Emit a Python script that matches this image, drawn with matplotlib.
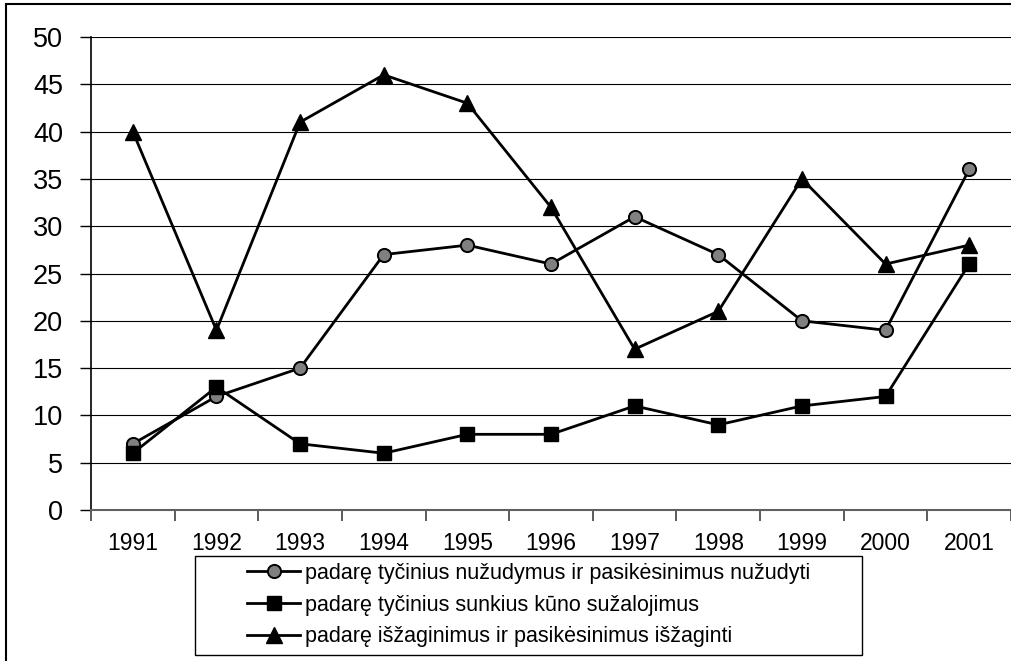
import matplotlib
matplotlib.use("Agg")
import matplotlib.pyplot as plt
from matplotlib.patches import Rectangle

years = ["1991", "1992", "1993", "1994", "1995", "1996", "1997", "1998", "1999", "2000", "2001"]
homicides = [7, 12, 15, 27, 28, 26, 31, 27, 20, 19, 36]
injuries = [6, 13, 7, 6, 8, 8, 11, 9, 11, 12, 26]
rapes = [40, 19, 41, 46, 43, 32, 17, 21, 35, 26, 28]
labels = [
    "padarę tyčinius nužudymus ir pasikėsinimus nužudyti",
    "padarę tyčinius sunkius kūno sužalojimus",
    "padarę išžaginimus ir pasikėsinimus išžaginti",
]
yticks = [0, 5, 10, 15, 20, 25, 30, 35, 40, 45, 50]

plt.rcParams['font.family'] = ['Liberation Sans', 'DejaVu Sans']

W, H = 1011, 661
fig = plt.figure(figsize=(W / 100, H / 100), dpi=100)

# outer frame (only top and left are visible in the reference)
fig.patches.append(Rectangle((6 / W, -0.05), 1.1, (H - 4) / H + 0.05, transform=fig.transFigure,
                             fill=False, edgecolor='black', linewidth=1.5, zorder=0))

ax = fig.add_axes([91 / W, (H - 510) / H, (1011 - 91) / W, (510 - 37) / H])
x = list(range(len(years)))

ax.set_ylim(0, 50)
ax.set_xlim(-0.5, len(years) - 0.5)
ax.set_yticks(yticks)
ax.set_yticklabels([str(v) for v in yticks])
for v in yticks[1:]:
    ax.axhline(v, color='black', linewidth=0.8, zorder=1)

lw = 2.0
l1, = ax.plot(x, homicides, color='black', linewidth=lw, marker='o', markersize=9.5,
              markerfacecolor='#808080', markeredgecolor='black', markeredgewidth=1.4, zorder=3)
l2, = ax.plot(x, injuries, color='black', linewidth=lw, marker='s', markersize=9.5,
              markerfacecolor='black', markeredgecolor='black', zorder=3)
l3, = ax.plot(x, rapes, color='black', linewidth=lw, marker='^', markersize=11.5,
              markerfacecolor='black', markeredgecolor='black', zorder=3)

# x ticks at category boundaries, labels at centers
ax.set_xticks([i - 0.5 for i in range(len(years) + 1)])
ax.set_xticklabels([])
ax.set_xticks(x, minor=True)
ax.set_xticklabels(years, minor=True, fontsize=16.5)
ax.tick_params(axis='x', which='minor', length=0, pad=16)
ax.tick_params(axis='x', which='major', length=8, width=1.2, color='#404040', direction='out')
ax.tick_params(axis='y', length=8, width=1, direction='out', labelsize=19.5, pad=12)

for s in ['top', 'right']:
    ax.spines[s].set_visible(False)
ax.spines['left'].set_color('black')
ax.spines['left'].set_linewidth(1.2)
ax.spines['bottom'].set_color('#606060')
ax.spines['bottom'].set_linewidth(1.5)

# legend box
fig.patches.append(Rectangle((195 / W, (H - 655) / H), (862 - 195) / W, (655 - 556) / H,
                             transform=fig.transFigure, fill=True, facecolor='white',
                             edgecolor='black', linewidth=1.0, zorder=1))
leg = fig.legend([l1, l2, l3], labels, loc='center left',
                 bbox_to_anchor=(242 / W, (H - 605) / H),
                 bbox_transform=fig.transFigure,
                 fontsize=15.5, frameon=False, handlelength=2.45,
                 handletextpad=0.23, labelspacing=0.5, borderpad=0.25, borderaxespad=0)
leg.set_zorder(5)

fig.savefig("out.png", dpi=100)
